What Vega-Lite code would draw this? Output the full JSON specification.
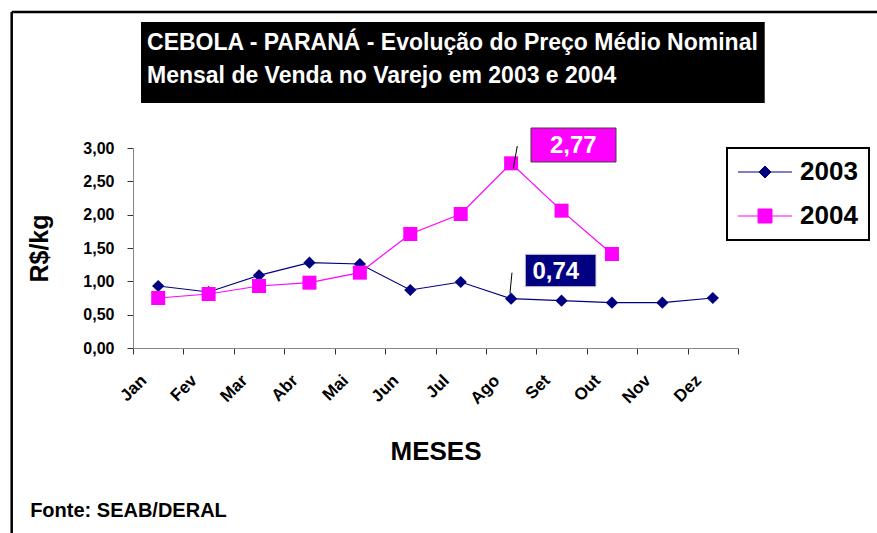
{
  "$schema": "https://vega.github.io/schema/vega-lite/v6.json",
  "width": 605,
  "height": 200,
  "autosize": {"type": "none"},
  "padding": {"left": 133, "top": 148, "right": 139, "bottom": 185},
  "background": "white",
  "config": {
    "font": "Liberation Sans",
    "view": {"stroke": null},
    "axis": {"grid": false, "labelColor": "black", "titleColor": "black", "labelFontWeight": "bold", "titleFontWeight": "bold", "domainColor": "#888888", "tickColor": "#333333", "tickSize": 6, "labelOverlap": false, "labelBound": false, "labelFlush": false}
  },
  "layer": [
    {
      "data": {"values": [
        {"m": 1, "mes": "Jan", "ano": "2003", "preco": 0.93},
        {"m": 2, "mes": "Fev", "ano": "2003", "preco": 0.84},
        {"m": 3, "mes": "Mar", "ano": "2003", "preco": 1.09},
        {"m": 4, "mes": "Abr", "ano": "2003", "preco": 1.28},
        {"m": 5, "mes": "Mai", "ano": "2003", "preco": 1.26},
        {"m": 6, "mes": "Jun", "ano": "2003", "preco": 0.87},
        {"m": 7, "mes": "Jul", "ano": "2003", "preco": 0.99},
        {"m": 8, "mes": "Ago", "ano": "2003", "preco": 0.74},
        {"m": 9, "mes": "Set", "ano": "2003", "preco": 0.71},
        {"m": 10, "mes": "Out", "ano": "2003", "preco": 0.68},
        {"m": 11, "mes": "Nov", "ano": "2003", "preco": 0.68},
        {"m": 12, "mes": "Dez", "ano": "2003", "preco": 0.75},
        {"m": 1, "mes": "Jan", "ano": "2004", "preco": 0.75},
        {"m": 2, "mes": "Fev", "ano": "2004", "preco": 0.81},
        {"m": 3, "mes": "Mar", "ano": "2004", "preco": 0.93},
        {"m": 4, "mes": "Abr", "ano": "2004", "preco": 0.98},
        {"m": 5, "mes": "Mai", "ano": "2004", "preco": 1.13},
        {"m": 6, "mes": "Jun", "ano": "2004", "preco": 1.71},
        {"m": 7, "mes": "Jul", "ano": "2004", "preco": 2.01},
        {"m": 8, "mes": "Ago", "ano": "2004", "preco": 2.77},
        {"m": 9, "mes": "Set", "ano": "2004", "preco": 2.06},
        {"m": 10, "mes": "Out", "ano": "2004", "preco": 1.41}
      ]},
      "layer": [
        {
          "mark": {"type": "line", "strokeWidth": 1.2},
          "encoding": {
            "x": {"field": "m", "type": "quantitative",
              "scale": {"domain": [0.5, 12.5], "nice": false, "zero": false},
              "axis": {
                "values": [0.5, 1.5, 2.5, 3.5, 4.5, 5.5, 6.5, 7.5, 8.5, 9.5, 10.5, 11.5, 12.5],
                "tickCount": 30,
                "labels": false,
                "title": "MESES", "titleFontSize": 26, "titleY": 111, "titleBaseline": "alphabetic"
              }
            },
            "y": {"field": "preco", "type": "quantitative",
              "scale": {"domain": [0, 3], "nice": false, "zero": false},
              "axis": {
                "values": [0, 0.5, 1, 1.5, 2, 2.5, 3],
                "tickCount": 10,
                "labelExpr": "replace(format(datum.value, '.2f'), '.', ',')",
                "labelFontSize": 16, "labelPadding": 13,
                "title": "R$/kg", "titleFontSize": 25, "titleX": -86, "titleY": 100, "titleBaseline": "alphabetic", "titleAngle": -90
              }
            },
            "color": {"field": "ano", "type": "nominal", "scale": {"domain": ["2003", "2004"], "range": ["#000080", "#FF00FF"]},
              "legend": {
                "title": null, "orient": "none", "legendX": 594, "legendY": 0,
                "strokeColor": "black", "padding": 11, "fillColor": "white",
                "labelFontSize": 26, "labelFontWeight": "bold", "labelColor": "black", "labelOffset": 36,
                "rowPadding": 18, "symbolSize": 4,
                "symbolType": "M-13,0H41M14,-6L20,0L14,6L8,0Z",
                "symbolStrokeWidth": 1,
                "encode": {
                  "legend": {"update": {"strokeWidth": {"value": 2}}},
                  "symbols": {"update": {
                    "shape": {"signal": "datum.value == '2003' ? 'M-13,0H41M14,-6L20,0L14,6L8,0Z' : 'M-13,0H41M7,-7H21V7H7Z'"},
                    "fill": {"signal": "datum.value == '2003' ? '#000080' : '#FF00FF'"},
                    "stroke": {"signal": "datum.value == '2003' ? '#000080' : '#FF00FF'"},
                    "opacity": {"value": 1}
                  }}
                }
              }
            },
            "order": {"field": "m"}
          }
        },
        {
          "transform": [{"filter": "datum.ano == '2003'"}],
          "mark": {"type": "point", "filled": true, "opacity": 1, "shape": "diamond", "size": 150, "color": "#000080"},
          "encoding": {
            "x": {"field": "m", "type": "quantitative"},
            "y": {"field": "preco", "type": "quantitative"}
          }
        },
        {
          "transform": [{"filter": "datum.ano == '2004'"}],
          "mark": {"type": "point", "filled": true, "opacity": 1, "shape": "square", "size": 196, "color": "#FF00FF"},
          "encoding": {
            "x": {"field": "m", "type": "quantitative"},
            "y": {"field": "preco", "type": "quantitative"}
          }
        },
        {
          "transform": [{"filter": "datum.ano == '2003'"}],
          "mark": {"type": "text", "angle": 315, "align": "right", "baseline": "middle", "fontSize": 17, "fontWeight": "bold", "color": "black", "dx": -10, "dy": -10},
          "encoding": {
            "x": {"field": "m", "type": "quantitative"},
            "y": {"datum": -0.45, "type": "quantitative"},
            "text": {"field": "mes"}
          }
        }
      ]
    },
    {
      "data": {"values": [{}]},
      "mark": {"type": "rule", "color": "black", "strokeWidth": 2.5},
      "encoding": {
        "x": {"datum": -1.906, "type": "quantitative"},
        "x2": {"datum": 15.3},
        "y": {"datum": 5.04, "type": "quantitative"}
      }
    },
    {
      "data": {"values": [{}]},
      "mark": {"type": "rule", "color": "black", "strokeWidth": 2.5},
      "encoding": {
        "x": {"datum": -1.906, "type": "quantitative"},
        "y": {"datum": 5.04, "type": "quantitative"},
        "y2": {"datum": -2.85}
      }
    },
    {
      "data": {"values": [{}]},
      "mark": {"type": "rect", "fill": "black"},
      "encoding": {
        "x": {"datum": 0.659, "type": "quantitative"},
        "x2": {"datum": 13.03},
        "y": {"datum": 4.89, "type": "quantitative"},
        "y2": {"datum": 3.675}
      }
    },
    {
      "data": {"values": [{"linha": "CEBOLA - PARANÁ - Evolução do Preço Médio Nominal", "ly": 4.47}, {"linha": "Mensal de Venda no Varejo em 2003 e 2004", "ly": 3.98}]},
      "mark": {"type": "text", "color": "white", "fontSize": 23, "fontWeight": "bold", "align": "left", "baseline": "alphabetic"},
      "encoding": {
        "x": {"datum": 0.778, "type": "quantitative"},
        "y": {"field": "ly", "type": "quantitative"},
        "text": {"field": "linha"}
      }
    },
    {
      "data": {"values": [{}]},
      "mark": {"type": "text", "color": "black", "fontSize": 20, "fontWeight": "bold", "align": "left", "baseline": "alphabetic"},
      "encoding": {
        "x": {"datum": -1.54, "type": "quantitative"},
        "y": {"datum": -2.53, "type": "quantitative"},
        "text": {"value": "Fonte: SEAB/DERAL"}
      }
    },
    {
      "data": {"values": [{}]},
      "mark": {"type": "rect", "fill": "#FF00FF", "stroke": "#404040", "strokeWidth": 1},
      "encoding": {
        "x": {"datum": 8.394, "type": "quantitative"},
        "x2": {"datum": 10.08},
        "y": {"datum": 3.30, "type": "quantitative"},
        "y2": {"datum": 2.79}
      }
    },
    {
      "data": {"values": [{}]},
      "mark": {"type": "rect", "fill": "#000080", "stroke": "#cccccc", "strokeWidth": 1},
      "encoding": {
        "x": {"datum": 8.281, "type": "quantitative"},
        "x2": {"datum": 9.683},
        "y": {"datum": 1.405, "type": "quantitative"},
        "y2": {"datum": 0.92}
      }
    },
    {
      "data": {"values": [{"t": "2,77", "tx": 9.233, "ty": 2.92}, {"t": "0,74", "tx": 8.886, "ty": 1.03}]},
      "mark": {"type": "text", "color": "white", "fontSize": 24, "fontWeight": "bold", "align": "center", "baseline": "alphabetic"},
      "encoding": {
        "x": {"field": "tx", "type": "quantitative"},
        "y": {"field": "ty", "type": "quantitative"},
        "text": {"field": "t"}
      }
    },
    {
      "data": {"values": [{"ax": 8.043, "ay": 2.695, "bx": 8.122, "by": 3.03}, {"ax": 7.977, "ay": 0.82, "bx": 8.017, "by": 1.13}]},
      "mark": {"type": "rule", "color": "black", "strokeWidth": 1},
      "encoding": {
        "x": {"field": "ax", "type": "quantitative"},
        "x2": {"field": "bx"},
        "y": {"field": "ay", "type": "quantitative"},
        "y2": {"field": "by"}
      }
    }
  ]
}
